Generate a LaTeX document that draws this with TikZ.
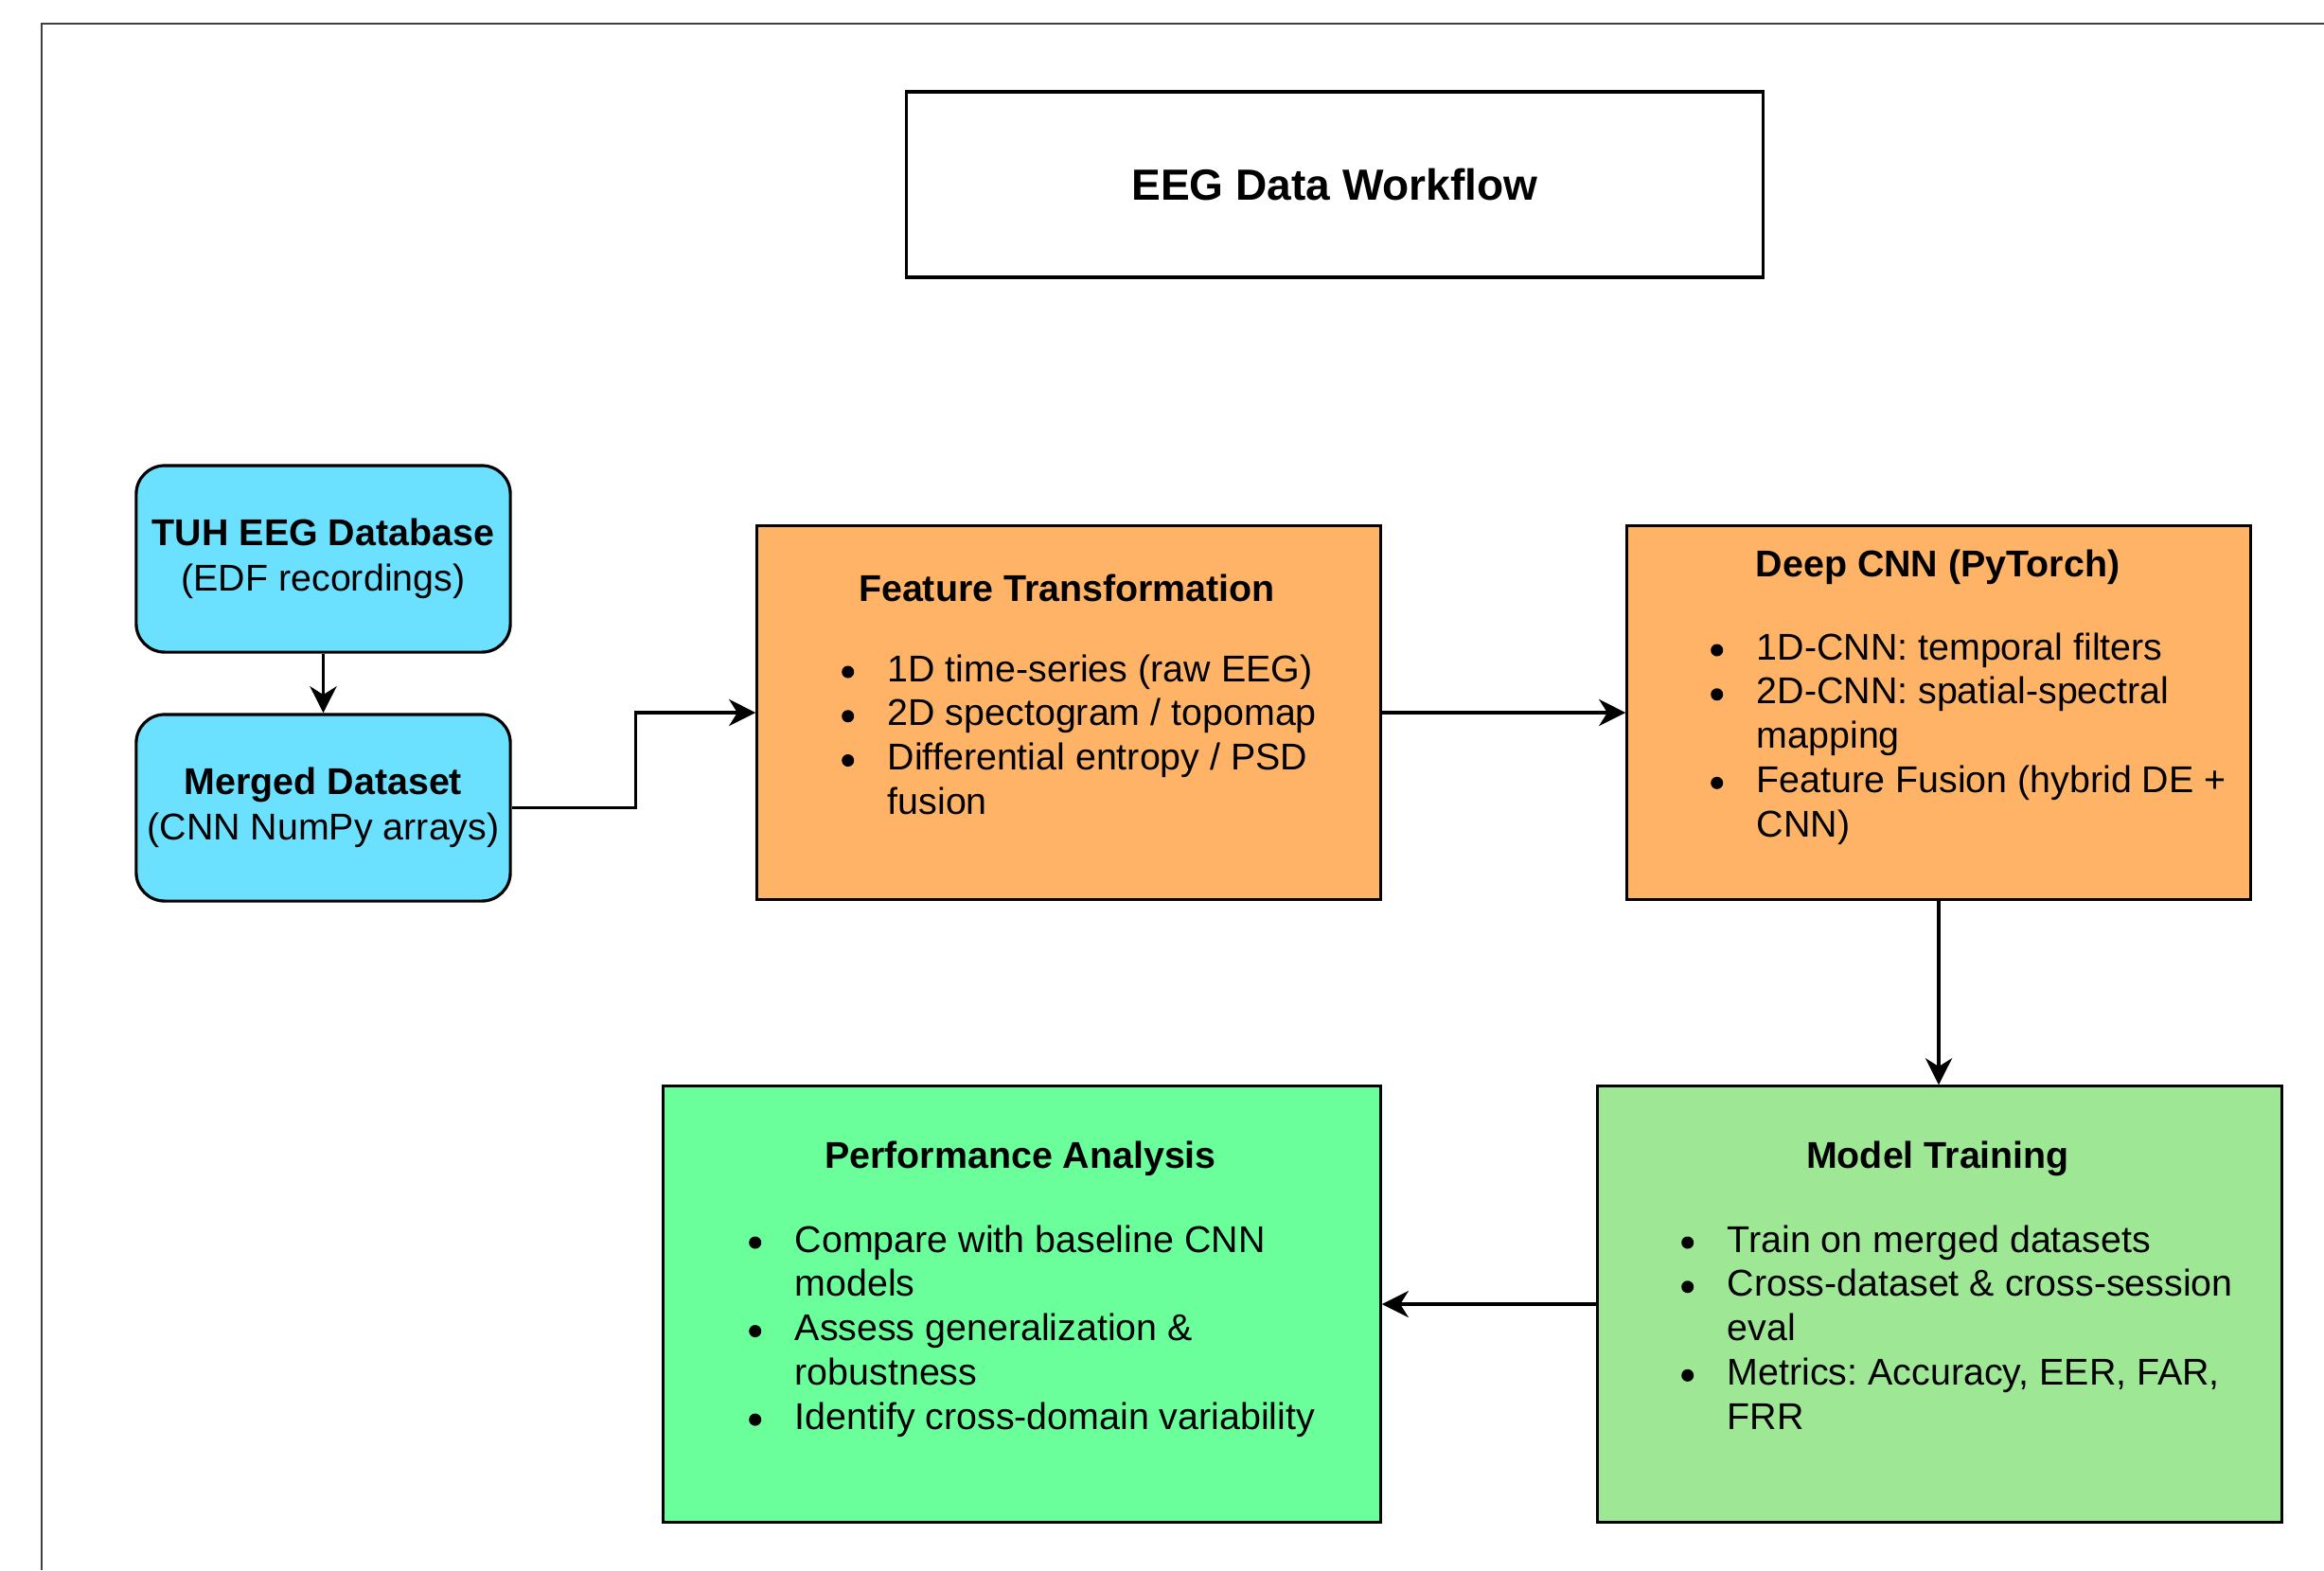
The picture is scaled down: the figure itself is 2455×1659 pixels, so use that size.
\documentclass[tikz,border=0pt]{standalone}
\usepackage{fontspec}
\setmainfont{Liberation Sans}
\usetikzlibrary{arrows.meta}
\definecolor{cyanbox}{RGB}{108,224,255}
\definecolor{orangebox}{RGB}{255,179,102}
\definecolor{greenA}{RGB}{107,255,155}
\definecolor{greenB}{RGB}{157,231,149}
\newcommand{\bul}{\tikz[baseline=0pt]{\fill (0pt,2.85pt) circle[radius=1.85pt];}}
\newcommand{\mylist}[1]{\begin{tabular}[t]{@{}l@{\hspace{10.1pt}}l@{}}#1\end{tabular}}
\frenchspacing
\begin{document}
\begin{tikzpicture}[x=0.01cm,y=-0.01cm,
  frameline/.style={draw=black!75, line width=0.45pt},
  box/.style={draw, line width=0.9pt, inner sep=0pt},
  rbox/.style={box, rounded corners=0.3cm, fill=cyanbox, align=center, font=\fontsize{11.2}{13.8}\selectfont},
  head/.style={anchor=base, inner sep=0pt, font=\bfseries\fontsize{11.2}{13.3}\selectfont},
  lst/.style={anchor=base west, inner sep=0pt, font=\fontsize{11.2}{13.3}\selectfont},
  arr/.style={-{Stealth[length=8pt,width=8pt,inset=2.5pt]}, line width=0.9pt}]
\useasboundingbox (0,0) rectangle (2455,1659);
\draw[frameline] (44,1659) -- (44,25) -- (2455,25);

\node[box, minimum width=9.04cm, minimum height=1.96cm, font=\bfseries\fontsize{13.1}{16}\selectfont] (title) at (1410,195) {EEG Data Workflow};

\node[rbox, minimum width=3.95cm, minimum height=1.97cm] (tuh) at (341.5,590.5) {\textbf{TUH EEG Database}\\(EDF recordings)};
\node[rbox, minimum width=3.95cm, minimum height=1.97cm] (mer) at (341.5,853.5) {\textbf{Merged Dataset}\\(CNN NumPy arrays)};

\node[box, fill=orangebox, minimum width=6.58cm, minimum height=3.94cm] (ft) at (1129,753) {};
\node[head] (fth) at (1127,635.5) {Feature Transformation};
\node[lst] (ftl) at (888.5,720) {\mylist{\bul & 1D time-series (raw EEG)\\ \bul & 2D spectogram / topomap\\ \bul & Differential entropy / PSD\\ & fusion}};

\node[box, fill=orangebox, minimum width=6.58cm, minimum height=3.94cm] (dc) at (2048,753) {};
\node[head] (dch) at (2047,609) {Deep CNN (PyTorch)};
\node[lst] (dcl) at (1806.5,697) {\mylist{\bul & 1D-CNN: temporal filters\\ \bul & 2D-CNN: spatial-spectral\\ & mapping\\ \bul & Feature Fusion (hybrid DE +\\ & CNN)}};

\node[box, fill=greenB, minimum width=7.22cm, minimum height=4.60cm] (mt) at (2049,1378) {};
\node[head] (mth) at (2047,1234) {Model Training};
\node[lst] (mtl) at (1775.5,1323) {\mylist{\bul & Train on merged datasets\\ \bul & Cross-dataset \& cross-session\\ & eval\\ \bul & Metrics: Accuracy, EER, FAR,\\ & FRR}};

\node[box, fill=greenA, minimum width=7.57cm, minimum height=4.60cm] (pa) at (1079.5,1378) {};
\node[head] (pah) at (1078,1234) {Performance Analysis};
\node[lst] (pal) at (790.5,1323) {\mylist{\bul & Compare with baseline CNN\\ & models\\ \bul & Assess generalization \&\\ & robustness\\ \bul & Identify cross-domain variability}};

\draw[arr] (tuh) -- (mer);
\draw[arr] (mer.east) -- ++(131,0) |- (ft.west);
\draw[arr] (ft) -- (dc);
\draw[arr] (dc.south) -- (dc.south |- mt.north);
\draw[arr] (mt) -- (pa);
\end{tikzpicture}
\end{document}
